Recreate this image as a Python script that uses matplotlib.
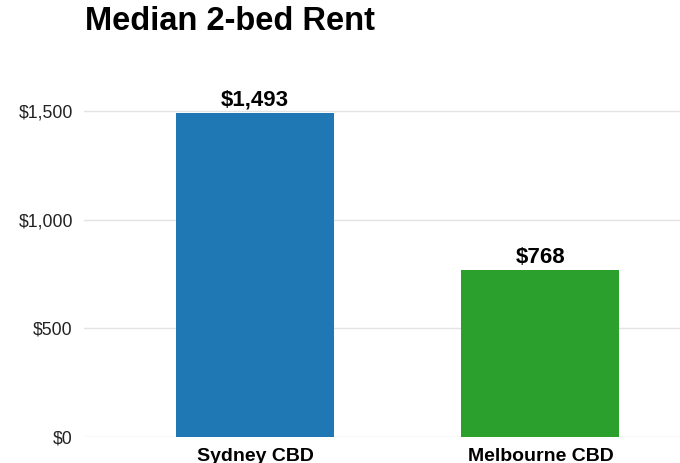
import matplotlib.pyplot as plt
from matplotlib.ticker import FuncFormatter

# data
categories = ['Sydney CBD', 'Melbourne CBD']
rents = [1493, 768]
colors = ['#1f77b4', '#2ca02c']
yticks = [0, 500, 1000, 1500]

plt.rcParams['font.family'] = ['Liberation Sans', 'DejaVu Sans']

fig = plt.figure(figsize=(6.8, 4.63), dpi=100)
ax = fig.add_axes([0.1235, 0.0568, 0.8765, 0.797])

x = range(len(categories))
bars = ax.bar(x, rents, width=0.553, color=colors, zorder=3)

for b, v in zip(bars, rents):
    ax.text(b.get_x() + b.get_width() / 2, v + 8, f'${v:,}',
            ha='center', va='bottom', fontsize=16, fontweight='bold')

ax.set_xlim(-0.599, 1.489)
ax.set_ylim(0, 1700)
ax.set_yticks(yticks)
ax.yaxis.set_major_formatter(FuncFormatter(lambda v, p: f'${v:,.0f}'))
ax.set_xticks(list(x))
ax.set_xticklabels(categories, fontsize=14, fontweight='bold')
ax.tick_params(axis='y', labelsize=12.7, length=0, pad=8, colors='#222222')
ax.tick_params(axis='x', length=0, pad=8)

ax.grid(axis='y', color='#e3e3e3', linewidth=1, zorder=0)
for s in ax.spines.values():
    s.set_visible(False)

fig.text(0.125, 0.953, 'Median 2-bed Rent', fontsize=23.5, fontweight='bold',
         ha='left', va='center')

fig.savefig('out.png', dpi=100)
